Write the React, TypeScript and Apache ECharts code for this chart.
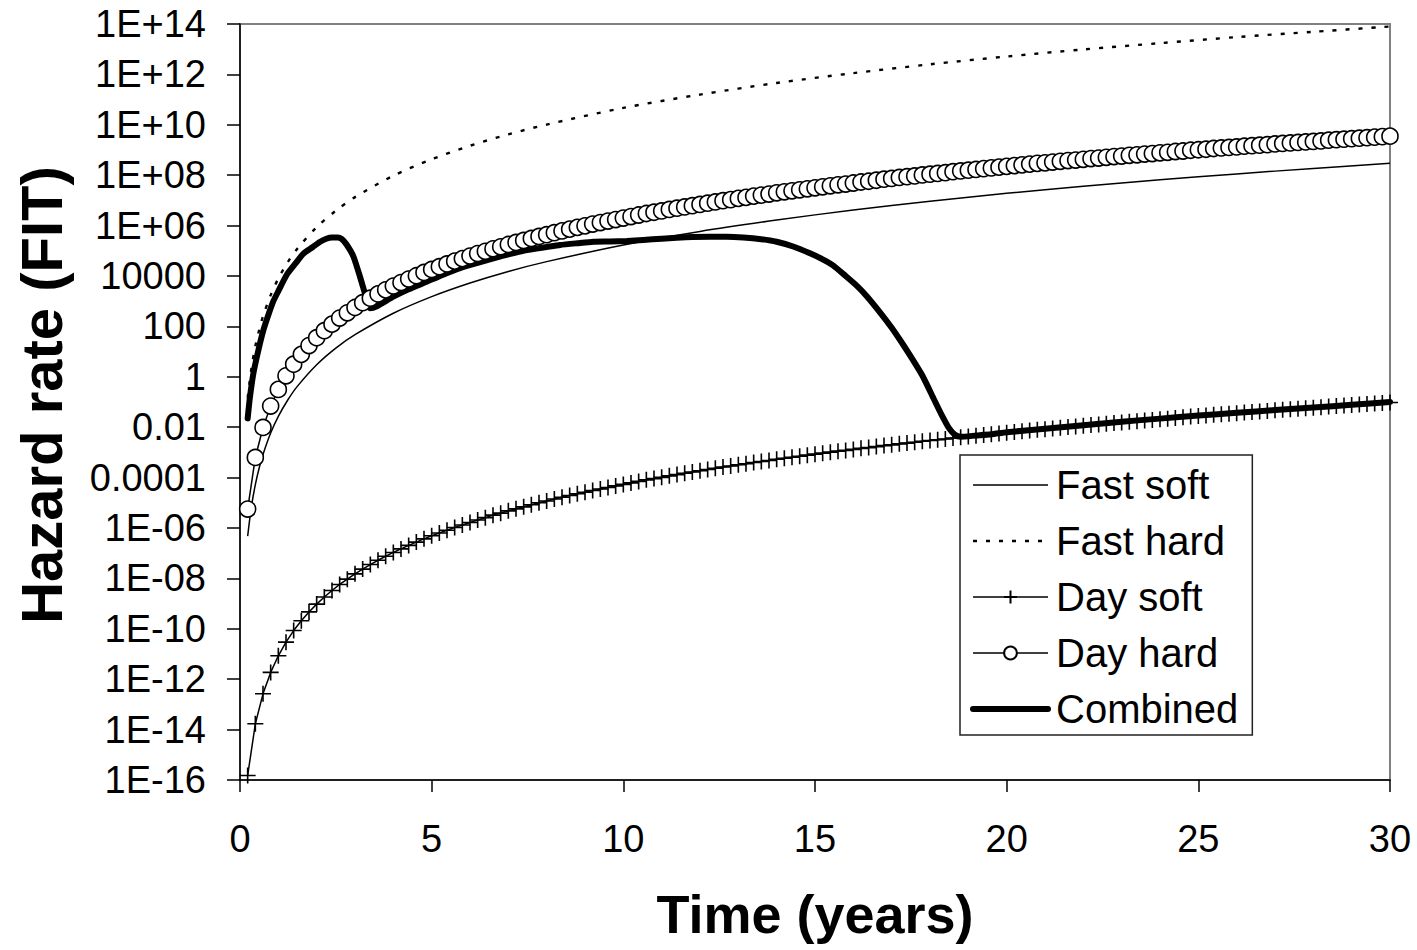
import React, { useEffect, useRef } from "react";
import * as echarts from "echarts";

// Time axis (years) of the marker series, one marker every 0.2 year
const markerYears = [
  0.2, 0.4, 0.6, 0.8, 1, 1.2, 1.4, 1.6, 1.8, 2,
  2.2, 2.4, 2.6, 2.8, 3, 3.2, 3.4, 3.6, 3.8, 4,
  4.2, 4.4, 4.6, 4.8, 5, 5.2, 5.4, 5.6, 5.8, 6,
  6.2, 6.4, 6.6, 6.8, 7, 7.2, 7.4, 7.6, 7.8, 8,
  8.2, 8.4, 8.6, 8.8, 9, 9.2, 9.4, 9.6, 9.8, 10,
  10.2, 10.4, 10.6, 10.8, 11, 11.2, 11.4, 11.6, 11.8, 12,
  12.2, 12.4, 12.6, 12.8, 13, 13.2, 13.4, 13.6, 13.8, 14,
  14.2, 14.4, 14.6, 14.8, 15, 15.2, 15.4, 15.6, 15.8, 16,
  16.2, 16.4, 16.6, 16.8, 17, 17.2, 17.4, 17.6, 17.8, 18,
  18.2, 18.4, 18.6, 18.8, 19, 19.2, 19.4, 19.6, 19.8, 20,
  20.2, 20.4, 20.6, 20.8, 21, 21.2, 21.4, 21.6, 21.8, 22,
  22.2, 22.4, 22.6, 22.8, 23, 23.2, 23.4, 23.6, 23.8, 24,
  24.2, 24.4, 24.6, 24.8, 25, 25.2, 25.4, 25.6, 25.8, 26,
  26.2, 26.4, 26.6, 26.8, 27, 27.2, 27.4, 27.6, 27.8, 28,
  28.2, 28.4, 28.6, 28.8, 29, 29.2, 29.4, 29.6, 29.8, 30,
];

// Hazard rates, stored as log10(FIT)
const dayHardLog10 = [
  -5.25, -3.2, -2.01, -1.16, -0.5, 0.04, 0.5, 0.89, 1.24, 1.55,
  1.83, 2.09, 2.33, 2.54, 2.75, 2.94, 3.12, 3.29, 3.45, 3.6,
  3.74, 3.88, 4.01, 4.14, 4.26, 4.37, 4.48, 4.59, 4.69, 4.79,
  4.89, 4.98, 5.08, 5.16, 5.25, 5.33, 5.41, 5.49, 5.57, 5.64,
  5.72, 5.79, 5.86, 5.93, 5.99, 6.06, 6.12, 6.18, 6.24, 6.3,
  6.36, 6.42, 6.48, 6.53, 6.58, 6.64, 6.69, 6.74, 6.79, 6.84,
  6.89, 6.94, 6.99, 7.03, 7.08, 7.12, 7.17, 7.21, 7.25, 7.3,
  7.34, 7.38, 7.42, 7.46, 7.5, 7.54, 7.58, 7.62, 7.65, 7.69,
  7.73, 7.76, 7.8, 7.84, 7.87, 7.91, 7.94, 7.97, 8.01, 8.04,
  8.07, 8.1, 8.14, 8.17, 8.2, 8.23, 8.26, 8.29, 8.32, 8.35,
  8.38, 8.41, 8.44, 8.47, 8.49, 8.52, 8.55, 8.58, 8.6, 8.63,
  8.66, 8.68, 8.71, 8.74, 8.76, 8.79, 8.81, 8.84, 8.86, 8.89,
  8.91, 8.94, 8.96, 8.99, 9.01, 9.03, 9.06, 9.08, 9.1, 9.12,
  9.15, 9.17, 9.19, 9.21, 9.24, 9.26, 9.28, 9.3, 9.32, 9.34,
  9.36, 9.39, 9.41, 9.43, 9.45, 9.47, 9.49, 9.51, 9.53, 9.55,
];

const daySoftLog10 = [
  -15.82, -13.77, -12.58, -11.73, -11.07, -10.53, -10.07, -9.68, -9.33, -9.02,
  -8.74, -8.48, -8.24, -8.03, -7.82, -7.63, -7.45, -7.28, -7.12, -6.97,
  -6.83, -6.69, -6.56, -6.43, -6.31, -6.2, -6.09, -5.98, -5.88, -5.78,
  -5.68, -5.59, -5.49, -5.41, -5.32, -5.24, -5.16, -5.08, -5.0, -4.93,
  -4.85, -4.78, -4.71, -4.64, -4.58, -4.51, -4.45, -4.39, -4.33, -4.27,
  -4.21, -4.15, -4.09, -4.04, -3.99, -3.93, -3.88, -3.83, -3.78, -3.73,
  -3.68, -3.63, -3.58, -3.54, -3.49, -3.45, -3.4, -3.36, -3.32, -3.27,
  -3.23, -3.19, -3.15, -3.11, -3.07, -3.03, -2.99, -2.95, -2.92, -2.88,
  -2.84, -2.81, -2.77, -2.73, -2.7, -2.66, -2.63, -2.6, -2.56, -2.53,
  -2.5, -2.47, -2.43, -2.4, -2.37, -2.34, -2.31, -2.28, -2.25, -2.22,
  -2.19, -2.16, -2.13, -2.1, -2.08, -2.05, -2.02, -1.99, -1.97, -1.94,
  -1.91, -1.89, -1.86, -1.83, -1.81, -1.78, -1.76, -1.73, -1.71, -1.68,
  -1.66, -1.63, -1.61, -1.58, -1.56, -1.54, -1.51, -1.49, -1.47, -1.45,
  -1.42, -1.4, -1.38, -1.36, -1.33, -1.31, -1.29, -1.27, -1.25, -1.23,
  -1.21, -1.18, -1.16, -1.14, -1.12, -1.1, -1.08, -1.06, -1.04, -1.02,
];

const fastYears = [
  0.2, 0.3, 0.4, 0.5, 0.6, 0.8, 1, 1.25, 1.5, 2, 2.5, 3, 4, 5, 6, 7, 8,
  10, 12, 14, 16, 18, 20, 22, 24, 26, 28, 30,
];
const fastSoftLog10 = [
  -6.32, -5.13, -4.28, -3.62, -3.08, -2.23, -1.57, -0.91, -0.37, 0.48, 1.14, 1.67,
  2.52, 3.18, 3.72, 4.18, 4.57, 5.23, 5.77, 6.22, 6.62, 6.97, 7.28, 7.56, 7.82,
  8.05, 8.27, 8.47,
];
const fastHardLog10 = [
  -0.83, 0.36, 1.21, 1.86, 2.4, 3.24, 3.9, 4.56, 5.09, 5.94, 6.59, 7.13, 7.98,
  8.63, 9.17, 9.62, 10.01, 10.67, 11.2, 11.66, 12.05, 12.4, 12.71, 12.99, 13.24,
  13.48, 13.69, 13.9,
];

const combinedYears = [
  0.2, 0.26, 0.35, 0.48, 0.61, 0.75, 0.87, 1.0, 1.22, 1.45, 1.65, 1.9, 2.09,
  2.25, 2.4, 2.55, 2.65, 2.78, 2.96, 3.13, 3.26, 3.39, 3.57, 4.0, 4.4, 4.87,
  5.3, 5.74, 6.2, 6.61, 7.0, 7.48, 8.0, 8.35, 8.8, 9.22, 9.65, 10.09, 10.52,
  11.0, 11.39, 11.8, 12.26, 12.7, 13.13, 13.6, 14.0, 14.43, 14.87, 15.2, 15.47,
  15.8, 16.1, 16.35, 16.7, 17.0, 17.22, 17.5, 17.8, 18.09, 18.3, 18.5, 18.65,
  18.8, 19.2, 19.6, 20, 21, 22, 23, 24, 25, 26, 27, 28, 29, 30,
];
const combinedLog10 = [
  -1.65, -0.8, 0.14, 1.06, 1.85, 2.5, 3.0, 3.4, 4.05, 4.5, 4.88, 5.15, 5.36,
  5.48, 5.53, 5.53, 5.47, 5.25, 4.77, 3.97, 3.31, 2.72, 2.8, 3.18, 3.47, 3.77,
  4.05, 4.31, 4.52, 4.7, 4.86, 5.03, 5.15, 5.23, 5.3, 5.36, 5.37, 5.39, 5.43,
  5.48, 5.52, 5.55, 5.56, 5.56, 5.53, 5.46, 5.36, 5.17, 4.9, 4.66, 4.42,
  4.0, 3.6, 3.2, 2.55, 1.95, 1.46, 0.8, 0.05, -0.85, -1.5, -2.05, -2.3,
  -2.38, -2.33, -2.28, -2.2, -2.06, -1.92, -1.78, -1.66, -1.54, -1.43, -1.32,
  -1.22, -1.11, -1.0,
];

const seriesNames = ["Fast soft", "Fast hard", "Day soft", "Day hard", "Combined"];

const FONT = '"Liberation Sans", Arial, Helvetica, sans-serif';

function toPairs(xs: number[], logs: number[]) {
  return xs.map((x, i) => [x, Math.pow(10, logs[i])]);
}

function formatHazard(v: number) {
  const n = Math.round(Math.log10(v));
  if (n >= 6) return "1E+" + String(n).padStart(2, "0");
  if (n <= -6) return "1E-" + String(-n).padStart(2, "0");
  if (n >= 0) return String(Math.round(Math.pow(10, n)));
  return Math.pow(10, n).toFixed(-n);
}

export default function App() {
  const ref = useRef<HTMLDivElement>(null);

  useEffect(() => {
    if (!ref.current) return;
    const chart = echarts.init(ref.current, null, { renderer: "svg" });
    const black = "#000000";
    const hidden = { opacity: 0, borderWidth: 0 };
    chart.setOption({
      animation: false,
      backgroundColor: "#ffffff",
      grid: {
        left: 240,
        right: 27,
        top: 24,
        bottom: 170,
        show: true,
        borderColor: "#808080",
        borderWidth: 2,
        backgroundColor: "transparent",
      },
      legend: {
        orient: "vertical",
        left: 960,
        top: 455,
        itemWidth: 75,
        itemHeight: 16,
        itemGap: 16,
        padding: [10, 14, 6, 10],
        borderColor: "#222222",
        borderWidth: 1.5,
        backgroundColor: "#ffffff",
        textStyle: {
          fontSize: 40,
          lineHeight: 40,
          fontFamily: FONT,
          color: black,
          padding: [0, 0, 0, 3],
        },
        data: [
          { name: seriesNames[0], itemStyle: hidden, lineStyle: { color: black, width: 1.5 } },
          { name: seriesNames[1], itemStyle: hidden, lineStyle: { color: black, width: 2.4, type: [4, 9] } },
          { name: seriesNames[2], lineStyle: { color: black, width: 1.5 } },
          { name: seriesNames[3], lineStyle: { color: black, width: 1.5 } },
          { name: seriesNames[4], itemStyle: hidden, lineStyle: { color: black, width: 6, cap: "round" } },
        ],
      },
      xAxis: {
        type: "value",
        min: 0,
        max: 30,
        interval: 5,
        axisLine: { show: true, onZero: false, lineStyle: { color: black, width: 1.5 } },
        axisTick: { show: true, inside: false, length: 12, lineStyle: { color: black, width: 1.5 } },
        axisLabel: { fontSize: 38, color: black, fontFamily: FONT, margin: 40 },
        splitLine: { show: false },
        name: "Time (years)",
        nameLocation: "middle",
        nameGap: 107,
        nameTextStyle: { fontSize: 54, fontWeight: "bold", fontFamily: FONT, color: black },
      },
      yAxis: {
        type: "log",
        logBase: 10,
        min: 1e-16,
        max: 1e14,
        interval: 2,
        axisLine: { show: true, lineStyle: { color: black, width: 1.5 } },
        axisTick: { show: true, inside: false, length: 13, lineStyle: { color: black, width: 1.5 } },
        axisLabel: {
          fontSize: 38,
          color: black,
          fontFamily: FONT,
          margin: 34,
          formatter: (v: number) => formatHazard(v),
        },
        splitLine: { show: false },
        name: "Hazard rate (FIT)",
        nameLocation: "middle",
        nameGap: 170,
        nameRotate: 90,
        nameTextStyle: {
          fontSize: 58,
          fontWeight: "bold",
          fontFamily: FONT,
          color: black,
          padding: [0, 0, 0, 14],
        },
      },
      series: [
        {
          name: "Fast soft",
          type: "line",
          data: toPairs(fastYears, fastSoftLog10),
          symbol: "none",
          smooth: 0.3,
          itemStyle: { color: black },
          lineStyle: { color: black, width: 1.5 },
        },
        {
          name: "Fast hard",
          type: "line",
          data: toPairs(fastYears, fastHardLog10),
          symbol: "none",
          smooth: 0.3,
          itemStyle: { color: black },
          lineStyle: { color: black, width: 2.4, type: [4, 9] },
        },
        {
          name: "Day soft",
          type: "line",
          data: toPairs(markerYears, daySoftLog10),
          symbol: "path://M8,0L8,16M0,8L16,8",
          symbolSize: 16,
          itemStyle: { color: black, borderColor: black, borderWidth: 1.6 },
          lineStyle: { color: black, width: 1.5 },
        },
        {
          name: "Day hard",
          type: "line",
          data: toPairs(markerYears, dayHardLog10),
          symbol: "circle",
          symbolSize: 16,
          itemStyle: { color: "#ffffff", borderColor: black, borderWidth: 1.6 },
          lineStyle: { color: black, width: 1.5 },
        },
        {
          name: "Combined",
          type: "line",
          data: toPairs(combinedYears, combinedLog10),
          symbol: "none",
          smooth: 0.2,
          itemStyle: { color: black },
          lineStyle: { color: black, width: 6, cap: "round", join: "round" },
        },
      ],
    });
    return () => chart.dispose();
  }, []);

  return (
    <div
      ref={ref}
      style={{ position: "fixed", left: 0, top: 0, width: 1417, height: 950, background: "#fff" }}
    />
  );
}
